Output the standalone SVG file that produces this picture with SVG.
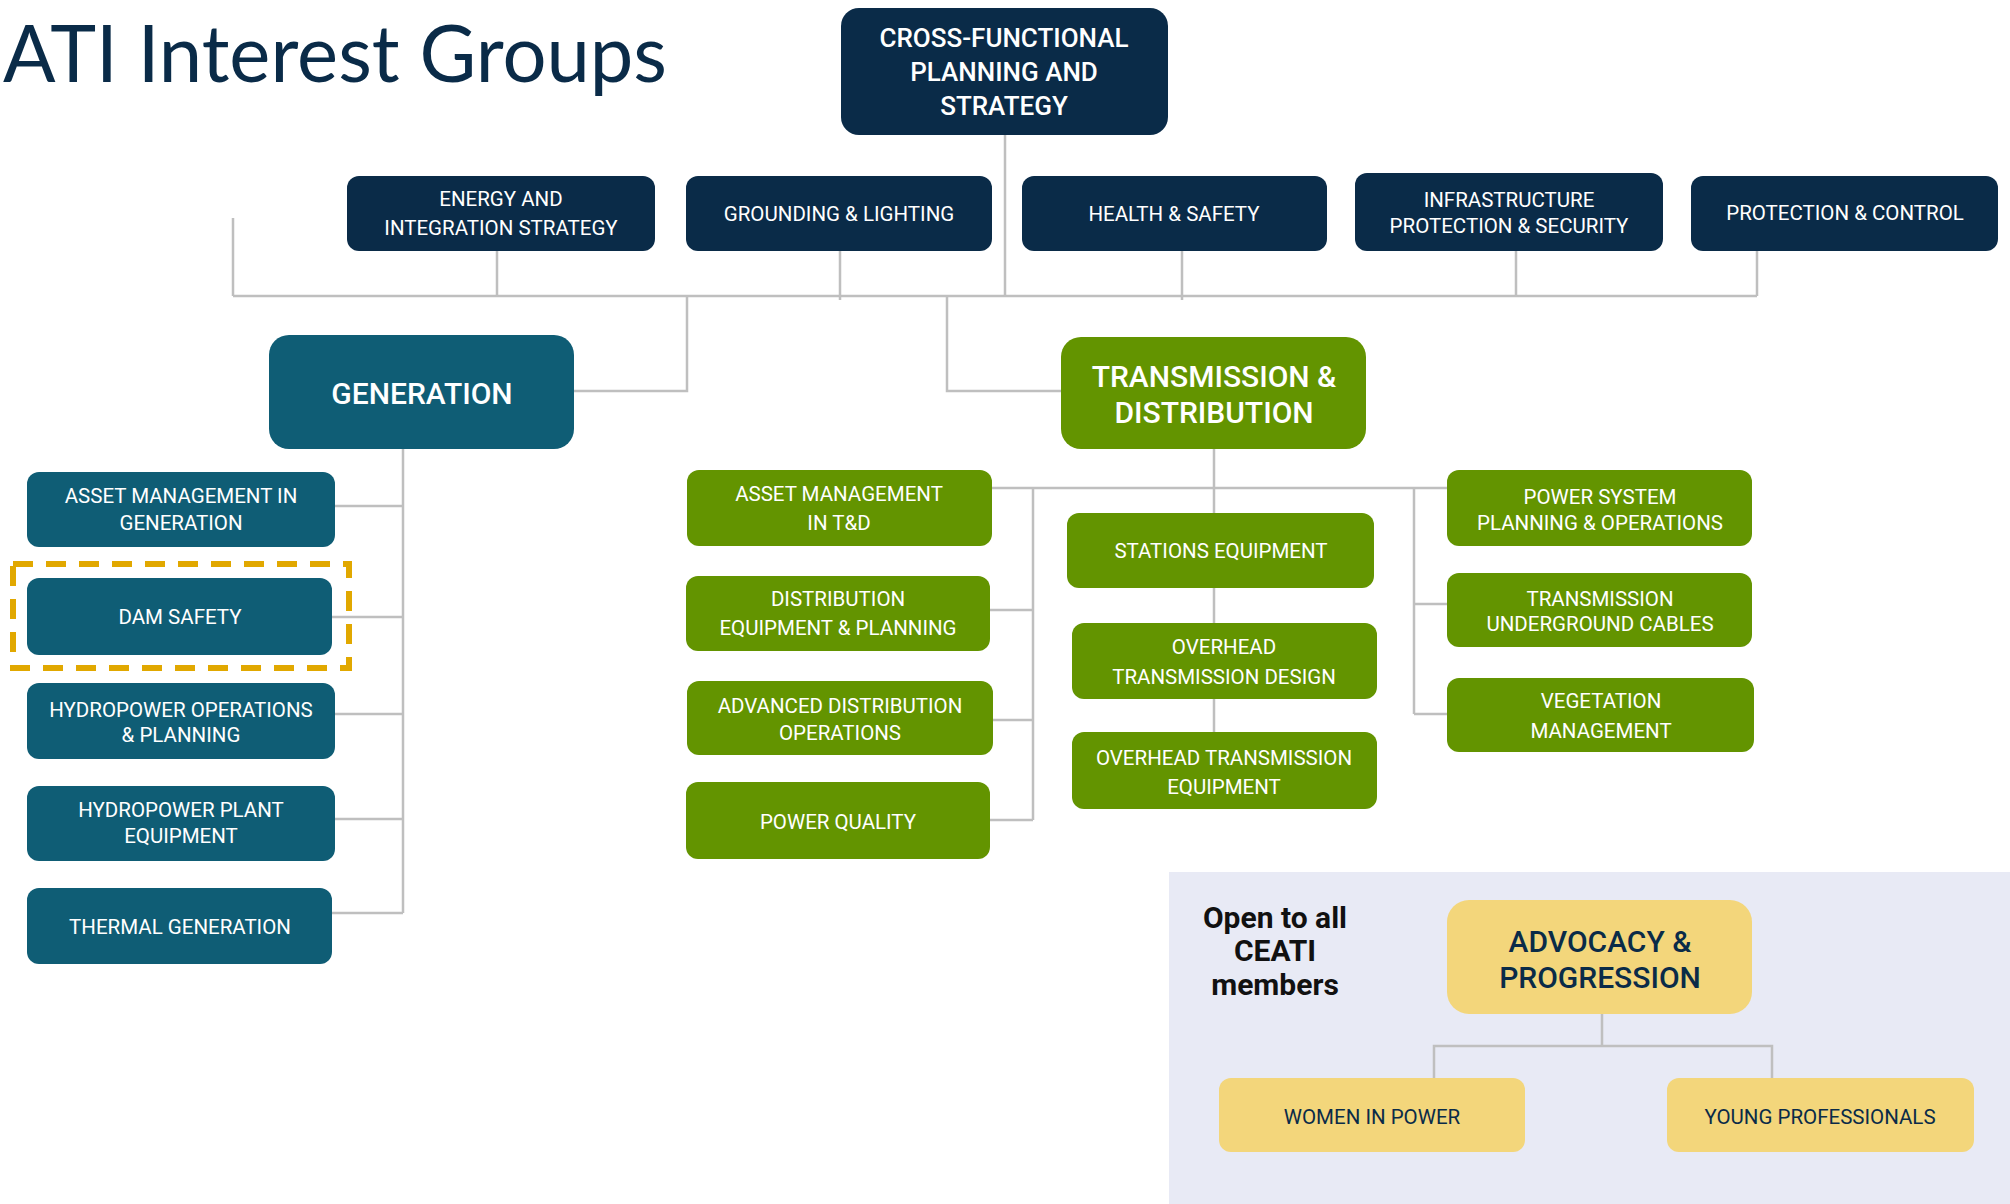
<svg xmlns="http://www.w3.org/2000/svg" width="2010" height="1204" viewBox="0 0 2010 1204">
<style>
.navy{fill:#0A2B48}
.teal{fill:#0F5D75}
.green{fill:#639400}
.yellow{fill:#F3D67B}
.t{font-family:Roboto,"Liberation Sans",sans-serif;font-size:20.5px;fill:#FFFFFF;text-anchor:middle;dominant-baseline:central}
.big{font-family:Roboto,"Liberation Sans",sans-serif;font-size:30px;font-weight:500;fill:#FFFFFF;text-anchor:middle;dominant-baseline:central}
.cf{font-family:Roboto,"Liberation Sans",sans-serif;font-size:26px;font-weight:500;fill:#FFFFFF;text-anchor:middle;dominant-baseline:central}
.dk{fill:#0A2B48}
.conn line,.conn polyline{stroke:#BFBFBF;stroke-width:2.5;fill:none}
</style>
<rect x="0" y="0" width="2010" height="1204" fill="#FFFFFF"/>
<text x="3" y="82" font-family="Lato,'Open Sans',sans-serif" font-size="80" fill="#0A2B48" textLength="664" lengthAdjust="spacingAndGlyphs">ATI Interest Groups</text>
<rect x="1169" y="872" width="841" height="332" fill="#E8EAF5"/>
<g class="conn">
<line x1="233" y1="296" x2="1757" y2="296"/>
<line x1="233" y1="218" x2="233" y2="296"/>
<line x1="497" y1="251" x2="497" y2="296"/>
<line x1="840" y1="251" x2="840" y2="300"/>
<line x1="1005" y1="135" x2="1005" y2="296"/>
<line x1="1182" y1="251" x2="1182" y2="300"/>
<line x1="1516" y1="251" x2="1516" y2="296"/>
<line x1="1757" y1="251" x2="1757" y2="296"/>
<polyline points="687,296 687,391 574,391"/>
<polyline points="947,296 947,391 1061,391"/>
<line x1="403" y1="449" x2="403" y2="913"/>
<line x1="335" y1="506" x2="403" y2="506"/>
<line x1="332" y1="617" x2="403" y2="617"/>
<line x1="335" y1="714" x2="403" y2="714"/>
<line x1="335" y1="819" x2="403" y2="819"/>
<line x1="332" y1="913" x2="403" y2="913"/>
<line x1="1214" y1="449" x2="1214" y2="732"/>
<line x1="992" y1="488" x2="1447" y2="488"/>
<line x1="1033" y1="488" x2="1033" y2="820"/>
<line x1="990" y1="610" x2="1033" y2="610"/>
<line x1="993" y1="720" x2="1033" y2="720"/>
<line x1="990" y1="820" x2="1033" y2="820"/>
<line x1="1414" y1="488" x2="1414" y2="714"/>
<line x1="1414" y1="604" x2="1447" y2="604"/>
<line x1="1414" y1="714" x2="1447" y2="714"/>
<line x1="1602" y1="1014" x2="1602" y2="1046"/>
<polyline points="1434,1078 1434,1046 1772,1046 1772,1078"/>
</g>
<g id="cross"><rect class="navy" x="841" y="8" width="327" height="127" rx="18"/><text class="cf" x="1004" y="38">CROSS-FUNCTIONAL</text><text class="cf" x="1004" y="72">PLANNING AND</text><text class="cf" x="1004" y="106">STRATEGY</text></g>
<g id="energy"><rect class="navy" x="347" y="176" width="308" height="75" rx="12"/><text class="t" x="501" y="199">ENERGY AND</text><text class="t" x="501" y="228">INTEGRATION STRATEGY</text></g>
<g id="grounding"><rect class="navy" x="686" y="176" width="306" height="75" rx="12"/><text class="t" x="839" y="214">GROUNDING &amp; LIGHTING</text></g>
<g id="health"><rect class="navy" x="1022" y="176" width="305" height="75" rx="12"/><text class="t" x="1174" y="214">HEALTH &amp; SAFETY</text></g>
<g id="infra"><rect class="navy" x="1355" y="173" width="308" height="78" rx="12"/><text class="t" x="1509" y="200">INFRASTRUCTURE</text><text class="t" x="1509" y="226">PROTECTION &amp; SECURITY</text></g>
<g id="protection"><rect class="navy" x="1691" y="176" width="307" height="75" rx="12"/><text class="t" x="1845" y="213">PROTECTION &amp; CONTROL</text></g>
<g id="generation"><rect class="teal" x="269" y="335" width="305" height="114" rx="20"/><text class="big" x="422" y="393">GENERATION</text></g>
<g id="td"><rect class="green" x="1061" y="337" width="305" height="112" rx="20"/><text class="big" x="1214" y="376">TRANSMISSION &amp;</text><text class="big" x="1214" y="412">DISTRIBUTION</text></g>
<g id="assetgen"><rect class="teal" x="27" y="472" width="308" height="75" rx="12"/><text class="t" x="181" y="496">ASSET MANAGEMENT IN</text><text class="t" x="181" y="523">GENERATION</text></g>
<g id="dam"><rect class="teal" x="27" y="578" width="305" height="77" rx="12"/><text class="t" x="180" y="617">DAM SAFETY</text><rect x="13" y="564" width="336" height="104" fill="none" stroke="#E1A800" stroke-width="6" stroke-dasharray="20 13"/></g>
<g id="hydroops"><rect class="teal" x="27" y="683" width="308" height="76" rx="12"/><text class="t" x="181" y="710">HYDROPOWER OPERATIONS</text><text class="t" x="181" y="735">&amp; PLANNING</text></g>
<g id="hydroplant"><rect class="teal" x="27" y="786" width="308" height="75" rx="12"/><text class="t" x="181" y="810">HYDROPOWER PLANT</text><text class="t" x="181" y="836">EQUIPMENT</text></g>
<g id="thermal"><rect class="teal" x="27" y="888" width="305" height="76" rx="12"/><text class="t" x="180" y="927">THERMAL GENERATION</text></g>
<g id="assettd"><rect class="green" x="687" y="470" width="305" height="76" rx="12"/><text class="t" x="839" y="494">ASSET MANAGEMENT</text><text class="t" x="839" y="523">IN T&amp;D</text></g>
<g id="distribution"><rect class="green" x="686" y="576" width="304" height="75" rx="12"/><text class="t" x="838" y="599">DISTRIBUTION</text><text class="t" x="838" y="628">EQUIPMENT &amp; PLANNING</text></g>
<g id="advanced"><rect class="green" x="687" y="681" width="306" height="74" rx="12"/><text class="t" x="840" y="706">ADVANCED DISTRIBUTION</text><text class="t" x="840" y="733">OPERATIONS</text></g>
<g id="powerquality"><rect class="green" x="686" y="782" width="304" height="77" rx="12"/><text class="t" x="838" y="822">POWER QUALITY</text></g>
<g id="stations"><rect class="green" x="1067" y="513" width="307" height="75" rx="12"/><text class="t" x="1221" y="551">STATIONS EQUIPMENT</text></g>
<g id="ohdesign"><rect class="green" x="1072" y="623" width="305" height="76" rx="12"/><text class="t" x="1224" y="647">OVERHEAD</text><text class="t" x="1224" y="677">TRANSMISSION DESIGN</text></g>
<g id="ohequip"><rect class="green" x="1072" y="732" width="305" height="77" rx="12"/><text class="t" x="1224" y="758">OVERHEAD TRANSMISSION</text><text class="t" x="1224" y="787">EQUIPMENT</text></g>
<g id="powersystem"><rect class="green" x="1447" y="470" width="305" height="76" rx="12"/><text class="t" x="1600" y="497">POWER SYSTEM</text><text class="t" x="1600" y="523">PLANNING &amp; OPERATIONS</text></g>
<g id="transug"><rect class="green" x="1447" y="573" width="305" height="74" rx="12"/><text class="t" x="1600" y="599">TRANSMISSION</text><text class="t" x="1600" y="624">UNDERGROUND CABLES</text></g>
<g id="vegetation"><rect class="green" x="1447" y="678" width="307" height="74" rx="12"/><text class="t" x="1601" y="701">VEGETATION</text><text class="t" x="1601" y="731">MANAGEMENT</text></g>
<g id="open"><text font-family="Roboto,'Liberation Sans',sans-serif" font-size="30" font-weight="700" fill="#111111" text-anchor="middle" dominant-baseline="central"><tspan x="1275" y="917">Open to all</tspan><tspan x="1275" y="950">CEATI</tspan><tspan x="1275" y="984">members</tspan></text></g>
<g id="advocacy"><rect class="yellow" x="1447" y="900" width="305" height="114" rx="22"/><text class="big dk" x="1600" y="941" font-weight="700">ADVOCACY &amp;</text><text class="big dk" x="1600" y="977" font-weight="700">PROGRESSION</text></g>
<g id="women"><rect class="yellow" x="1219" y="1078" width="306" height="74" rx="12"/><text class="t dk" x="1372" y="1117">WOMEN IN POWER</text></g>
<g id="young"><rect class="yellow" x="1667" y="1078" width="307" height="74" rx="12"/><text class="t dk" x="1820" y="1117">YOUNG PROFESSIONALS</text></g>
</svg>
